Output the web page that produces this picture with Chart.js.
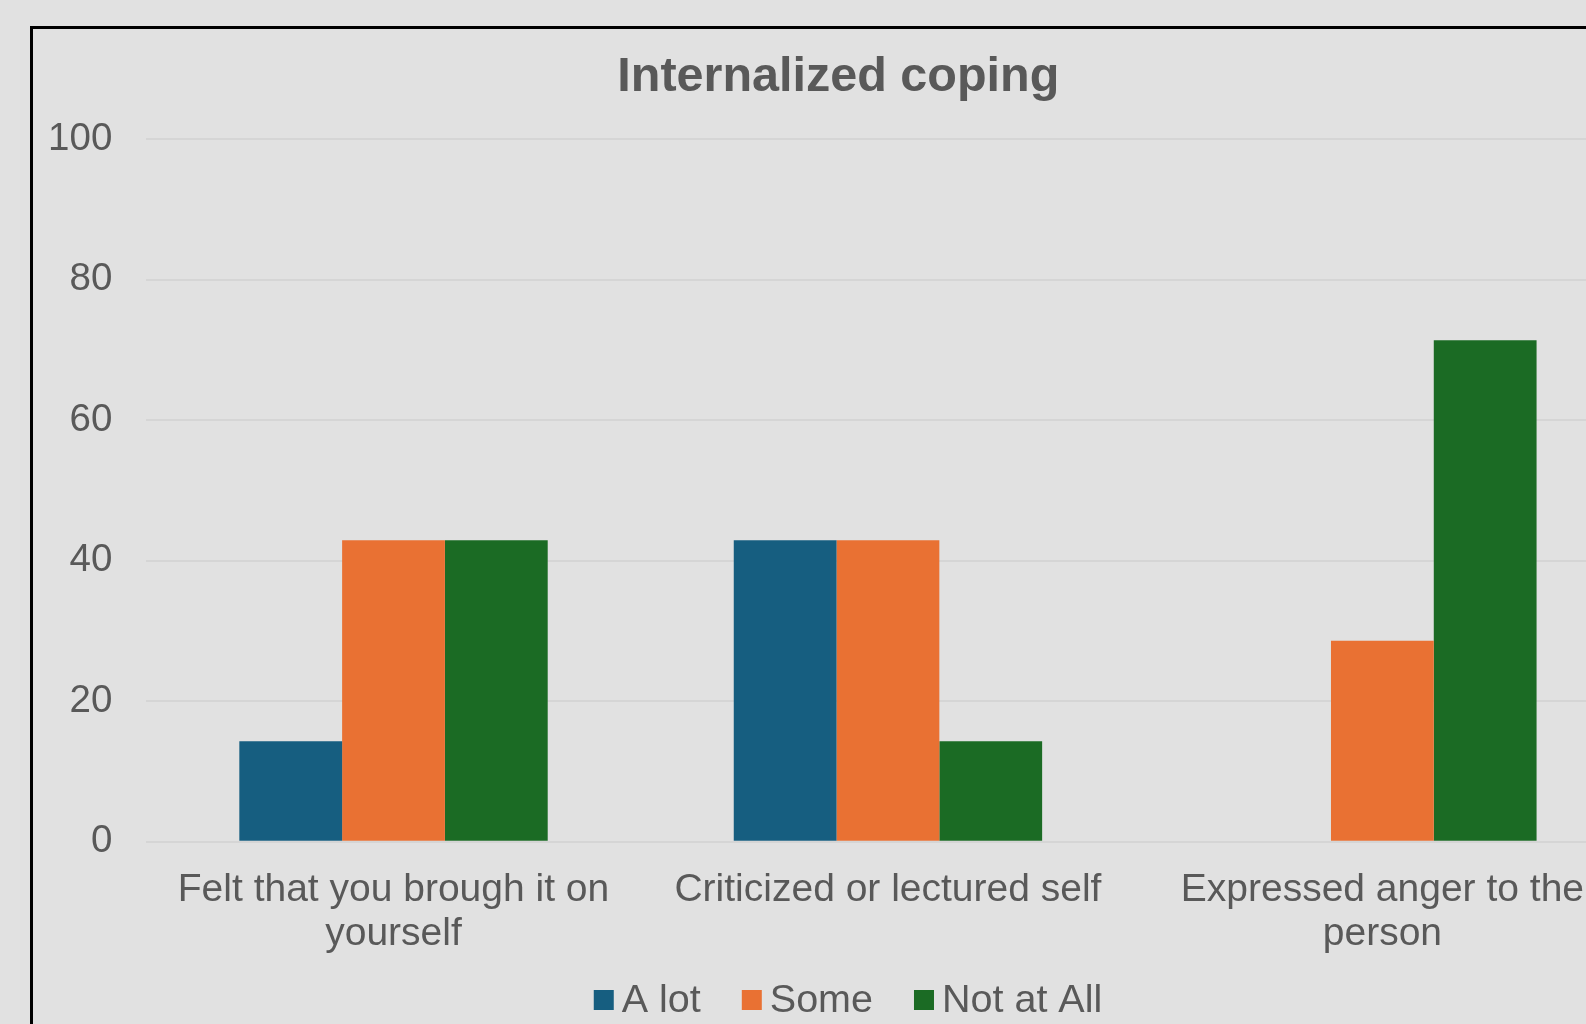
<!DOCTYPE html>
<html>
<head>
<meta charset="utf-8">
<title>Internalized coping</title>
<script src="https://cdn.jsdelivr.net/npm/chart.js@4/dist/chart.umd.min.js"></script>
<style>
  html, body { margin: 0; padding: 0; width: 1586px; height: 1024px; overflow: hidden; background: #e1e1e1; }
  #frame { position: absolute; left: 30px; top: 26px; width: 2000px; height: 2000px; border: 3px solid #000; box-sizing: border-box; }
  #chart { position: absolute; left: 0; top: 0; }
</style>
</head>
<body>
<div id="frame"></div>
<canvas id="chart" width="1660" height="1024"></canvas>
<script>
// Categories (multi-line labels) and percentage per response
const categories = [
  ['Felt that you brough it on', 'yourself'],
  'Criticized or lectured self',
  ['Expressed anger to the', 'person']
];
const aLot = [14.3, 42.9, 0];
const some = [42.9, 42.9, 28.6];
const notAtAll = [42.9, 14.3, 71.4];
const yTicks = [0, 20, 40, 60, 80, 100];

const textColor = '#595959';
const fontFamily = '"Liberation Sans", Arial, sans-serif';

// Compact legend drawn under the axis labels
const bottomLegend = {
  id: 'bottomLegend',
  afterDraw(chart) {
    const ctx = chart.ctx;
    const box = 20, gap = 8, itemGap = 41, centerX = 848, baseline = 1012;
    ctx.save();
    ctx.font = '39.5px ' + fontFamily;
    const items = chart.data.datasets.map(ds => ({
      label: ds.label, color: ds.backgroundColor, w: ctx.measureText(ds.label).width
    }));
    const total = items.reduce((s, it) => s + box + gap + it.w, 0) + itemGap * (items.length - 1);
    let x = centerX - total / 2;
    ctx.textBaseline = 'alphabetic';
    ctx.textAlign = 'left';
    items.forEach(it => {
      ctx.fillStyle = it.color;
      ctx.fillRect(x, baseline - 22, box, box);
      ctx.fillStyle = textColor;
      ctx.fillText(it.label, x + box + gap, baseline);
      x += box + gap + it.w + itemGap;
    });
    ctx.restore();
  }
};

new Chart(document.getElementById('chart'), {
  type: 'bar',
  data: {
    labels: categories,
    datasets: [
      { label: 'A lot', data: aLot, backgroundColor: '#165e80' },
      { label: 'Some', data: some, backgroundColor: '#e97133' },
      { label: 'Not at All', data: notAtAll, backgroundColor: '#1b6b24' }
    ]
  },
  options: {
    responsive: false,
    animation: false,
    layout: { padding: { left: 47, right: 30.4, top: 29, bottom: 0 } },
    datasets: {
      bar: {
        barPercentage: 1,
        categoryPercentage: 0.6237,
        borderWidth: 0
      }
    },
    plugins: {
      legend: { display: false },
      tooltip: { enabled: false },
      title: {
        display: true,
        text: 'Internalized coping',
        color: textColor,
        font: { family: fontFamily, size: 48.5, weight: 'bold', lineHeight: 1.2 },
        padding: { top: 19.9, bottom: 32.2 }
      }
    },
    scales: {
      x: {
        grid: { display: false },
        border: { display: false },
        ticks: {
          color: textColor,
          font: { family: fontFamily, size: 39, lineHeight: '44px' },
          padding: 19,
          maxRotation: 0,
          autoSkip: false
        },
        afterFit(scale) { scale.height = 182.3; }
      },
      y: {
        min: 0,
        max: 100,
        afterBuildTicks(scale) { scale.ticks = yTicks.map(v => ({ value: v })); },
        grid: { color: '#d5d5d5', lineWidth: 2, drawTicks: false },
        border: { display: false },
        ticks: {
          color: textColor,
          font: { family: fontFamily, size: 38.5 },
          padding: 34
        },
        afterFit(scale) { scale.width = 99.3; }
      }
    }
  },
  plugins: [bottomLegend]
});
</script>
</body>
</html>
